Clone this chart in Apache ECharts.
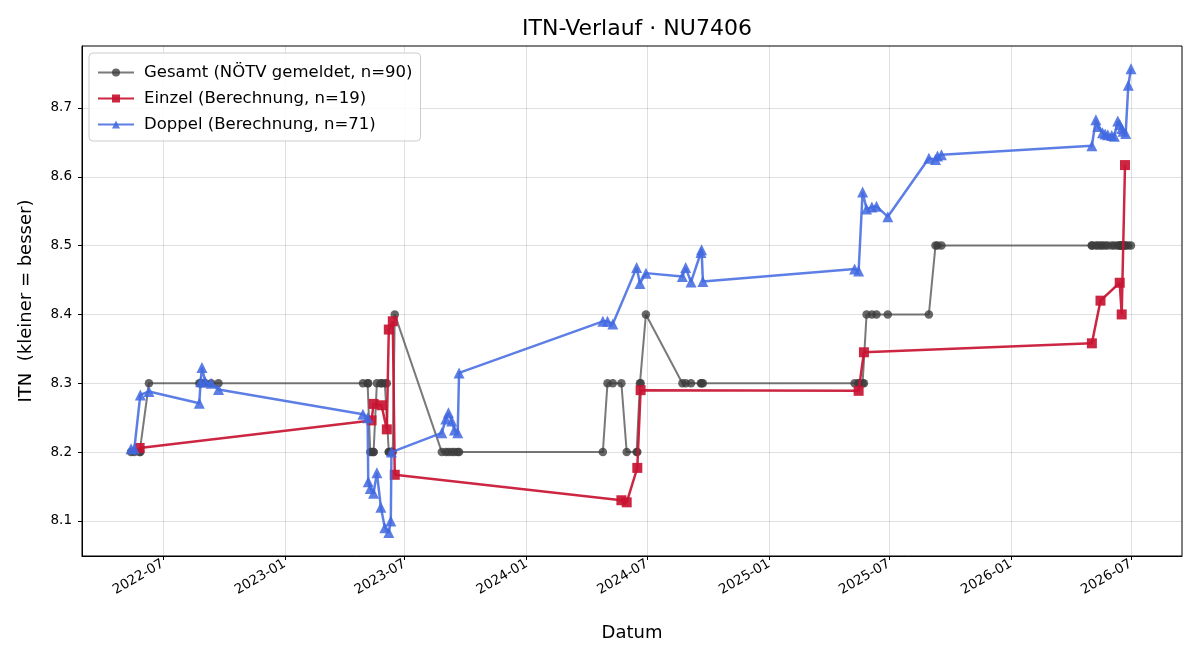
<!DOCTYPE html>
<html>
<head>
<meta charset="utf-8">
<script src="https://cdn.jsdelivr.net/npm/echarts@6/dist/echarts.min.js"></script>
<style>
  html, body { margin: 0; padding: 0; background: #fff; }
  #chart { width: 1200px; height: 660px; }
</style>
</head>
<body>
<div id="chart"></div>
<script>
// Gesamt (NÖTV gemeldet) – gemeldeter ITN je Stichtag
const gesamt = [
  ['2022-05-14', 8.2], ['2022-05-19', 8.2], ['2022-05-27', 8.2], ['2022-05-28', 8.2],
  ['2022-06-10', 8.3], ['2022-08-25', 8.3], ['2022-08-27', 8.3], ['2022-08-29', 8.3],
  ['2022-09-03', 8.3], ['2022-09-12', 8.3], ['2022-09-23', 8.3],
  ['2023-04-29', 8.3], ['2023-05-06', 8.3], ['2023-05-07', 8.3], ['2023-05-10', 8.2],
  ['2023-05-12', 8.2], ['2023-05-15', 8.2], ['2023-05-15', 8.2], ['2023-05-20', 8.3],
  ['2023-05-26', 8.3], ['2023-05-27', 8.3], ['2023-06-01', 8.3], ['2023-06-04', 8.3],
  ['2023-06-07', 8.2], ['2023-06-07', 8.2], ['2023-06-10', 8.2], ['2023-06-11', 8.2],
  ['2023-06-13', 8.2], ['2023-06-16', 8.4],
  ['2023-08-26', 8.2], ['2023-09-01', 8.2], ['2023-09-05', 8.2], ['2023-09-10', 8.2],
  ['2023-09-14', 8.2], ['2023-09-19', 8.2], ['2023-09-21', 8.2],
  ['2024-04-25', 8.2], ['2024-05-02', 8.3], ['2024-05-10', 8.3], ['2024-05-23', 8.3],
  ['2024-05-31', 8.2], ['2024-06-15', 8.2], ['2024-06-16', 8.2], ['2024-06-20', 8.3],
  ['2024-06-21', 8.3], ['2024-06-29', 8.4],
  ['2024-08-23', 8.3], ['2024-08-28', 8.3], ['2024-09-05', 8.3], ['2024-09-20', 8.3],
  ['2024-09-21', 8.3], ['2024-09-23', 8.3],
  ['2025-05-10', 8.3], ['2025-05-16', 8.3], ['2025-05-16', 8.3], ['2025-05-22', 8.3],
  ['2025-05-24', 8.3], ['2025-05-28', 8.4], ['2025-06-05', 8.4], ['2025-06-12', 8.4],
  ['2025-06-29', 8.4], ['2025-08-30', 8.4], ['2025-09-09', 8.5], ['2025-09-12', 8.5],
  ['2025-09-18', 8.5],
  ['2026-05-03', 8.5], ['2026-05-03', 8.5], ['2026-05-09', 8.5], ['2026-05-12', 8.5],
  ['2026-05-16', 8.5], ['2026-05-19', 8.5], ['2026-05-23', 8.5], ['2026-05-27', 8.5],
  ['2026-06-02', 8.5], ['2026-06-06', 8.5], ['2026-06-11', 8.5], ['2026-06-14', 8.5],
  ['2026-06-14', 8.5], ['2026-06-17', 8.5], ['2026-06-17', 8.5], ['2026-06-19', 8.5],
  ['2026-06-22', 8.5], ['2026-06-23', 8.5], ['2026-06-27', 8.5], ['2026-07-01', 8.5]
];

// Einzel (Berechnung)
const einzel = [
  ['2022-05-27', 8.206],
  ['2023-05-12', 8.246], ['2023-05-15', 8.270], ['2023-05-27', 8.268], ['2023-06-04', 8.233],
  ['2023-06-07', 8.378], ['2023-06-13', 8.390], ['2023-06-16', 8.167],
  ['2024-05-23', 8.130], ['2024-05-31', 8.127], ['2024-06-16', 8.177], ['2024-06-21', 8.290],
  ['2025-05-16', 8.289], ['2025-05-24', 8.345],
  ['2026-05-03', 8.358], ['2026-05-16', 8.420], ['2026-06-14', 8.446], ['2026-06-17', 8.400],
  ['2026-06-22', 8.617]
];

// Doppel (Berechnung)
const doppel = [
  ['2022-05-14', 8.205], ['2022-05-19', 8.205], ['2022-05-28', 8.283], ['2022-06-10', 8.288],
  ['2022-08-25', 8.271], ['2022-08-27', 8.302], ['2022-08-29', 8.323], ['2022-09-03', 8.302],
  ['2022-09-12', 8.300], ['2022-09-23', 8.291],
  ['2023-04-29', 8.255], ['2023-05-06', 8.250], ['2023-05-07', 8.157], ['2023-05-10', 8.147],
  ['2023-05-15', 8.140], ['2023-05-20', 8.170], ['2023-05-26', 8.120], ['2023-06-01', 8.090],
  ['2023-06-07', 8.083], ['2023-06-10', 8.100], ['2023-06-11', 8.200],
  ['2023-08-26', 8.228], ['2023-09-01', 8.248], ['2023-09-05', 8.257], ['2023-09-10', 8.245],
  ['2023-09-14', 8.232], ['2023-09-19', 8.228], ['2023-09-21', 8.315],
  ['2024-04-25', 8.390], ['2024-05-02', 8.390], ['2024-05-10', 8.386], ['2024-06-15', 8.468],
  ['2024-06-20', 8.445], ['2024-06-29', 8.460],
  ['2024-08-23', 8.455], ['2024-08-28', 8.468], ['2024-09-05', 8.447], ['2024-09-20', 8.490],
  ['2024-09-21', 8.494], ['2024-09-23', 8.448],
  ['2025-05-10', 8.466], ['2025-05-16', 8.463], ['2025-05-22', 8.578], ['2025-05-28', 8.553],
  ['2025-06-05', 8.556], ['2025-06-12', 8.557], ['2025-06-29', 8.542],
  ['2025-08-30', 8.627], ['2025-09-09', 8.625], ['2025-09-12', 8.630], ['2025-09-18', 8.632],
  ['2026-05-03', 8.645], ['2026-05-09', 8.683], ['2026-05-12', 8.673], ['2026-05-19', 8.664],
  ['2026-05-23', 8.662], ['2026-05-27', 8.661], ['2026-06-02', 8.660], ['2026-06-06', 8.659],
  ['2026-06-11', 8.681], ['2026-06-14', 8.676], ['2026-06-17', 8.670], ['2026-06-19', 8.666],
  ['2026-06-23', 8.663], ['2026-06-27', 8.733], ['2026-07-01', 8.757]
];

const xTicks = ['2022-07-01', '2023-01-01', '2023-07-01', '2024-01-01', '2024-07-01',
                '2025-01-01', '2025-07-01', '2026-01-01', '2026-07-01'];
const yTicks = [8.1, 8.2, 8.3, 8.4, 8.5, 8.6, 8.7];
const xRange = ['2022-03-01', '2026-09-16'];
const yRange = [8.049, 8.790];

// Datum -> ms (UTC), Achse ist eine Werteachse mit eigenen Ticks
const ts = s => Date.parse(s + 'T00:00:00Z');
const toSeries = arr => arr.map(([d, v]) => [ts(d), v]);
const fmtMonth = v => {
  const d = new Date(v);
  return d.getUTCFullYear() + '-' + String(d.getUTCMonth() + 1).padStart(2, '0');
};

const FONT = 'DejaVu Sans';
const chart = echarts.init(document.getElementById('chart'), null, { renderer: 'canvas' });

chart.setOption({
  animation: false,
  backgroundColor: '#fff',
  textStyle: { fontFamily: FONT, color: '#000' },
  title: {
    text: 'ITN-Verlauf · NU7406',
    left: 632, top: 13, textAlign: 'center',
    textStyle: { fontFamily: FONT, fontSize: 22, fontWeight: 'normal', color: '#000' }
  },
  grid: {
    left: 82, right: 18, top: 46, bottom: 104,
    show: true, borderColor: '#000', borderWidth: 1, backgroundColor: 'transparent'
  },
  legend: {
    orient: 'vertical', left: 89, top: 53,
    padding: [11, 8, 8, 8], itemGap: 9,
    itemWidth: 36, itemHeight: 10,
    backgroundColor: 'rgba(255,255,255,0.85)',
    borderColor: '#ccc', borderWidth: 1, borderRadius: 4,
    textStyle: { fontFamily: FONT, fontSize: 16.5, color: '#000', padding: [0, 0, 0, 5] },
    data: ['Gesamt (NÖTV gemeldet, n=90)', 'Einzel (Berechnung, n=19)', 'Doppel (Berechnung, n=71)']
  },
  xAxis: {
    type: 'value',
    min: ts(xRange[0]), max: ts(xRange[1]),
    name: 'Datum', nameLocation: 'middle', nameGap: 68,
    nameTextStyle: { fontFamily: FONT, fontSize: 18, color: '#000' },
    axisLine: { show: true, lineStyle: { color: '#000', width: 1 } },
    axisTick: { show: true, length: 4, lineStyle: { color: '#000' }, customValues: xTicks.map(ts) },
    axisLabel: {
      customValues: xTicks.map(ts),
      rotate: 30, fontFamily: FONT, fontSize: 13.5, color: '#000', margin: 7,
      formatter: fmtMonth
    },
    splitLine: { show: true, lineStyle: { color: 'rgba(0,0,0,0.12)', width: 1 } }
  },
  yAxis: {
    type: 'value',
    min: yRange[0], max: yRange[1],
    name: 'ITN  (kleiner = besser)', nameLocation: 'middle', nameGap: 47, nameRotate: 90,
    nameTextStyle: { fontFamily: FONT, fontSize: 18, color: '#000' },
    axisLine: { show: true, lineStyle: { color: '#000', width: 1 } },
    axisTick: { show: true, length: 4, lineStyle: { color: '#000' }, customValues: yTicks },
    axisLabel: {
      customValues: yTicks,
      fontFamily: FONT, fontSize: 13.5, color: '#000', margin: 10,
      formatter: v => v.toFixed(1)
    },
    splitLine: { show: true, lineStyle: { color: 'rgba(0,0,0,0.12)', width: 1 } }
  },
  series: [
    {
      name: 'Gesamt (NÖTV gemeldet, n=90)', type: 'line',
      data: toSeries(gesamt),
      symbol: 'circle', symbolSize: 8.5, showAllSymbol: true,
      lineStyle: { color: 'rgba(64,64,64,0.7)', width: 2 },
      itemStyle: { color: 'rgba(60,60,60,0.78)' },
      z: 2
    },
    {
      name: 'Einzel (Berechnung, n=19)', type: 'line',
      data: toSeries(einzel),
      symbol: 'rect', symbolSize: 10, showAllSymbol: true,
      lineStyle: { color: 'rgba(200,20,50,0.92)', width: 2.5 },
      itemStyle: { color: 'rgba(200,20,50,0.92)' },
      z: 3
    },
    {
      name: 'Doppel (Berechnung, n=71)', type: 'line',
      data: toSeries(doppel),
      symbol: 'triangle', symbolSize: 11, showAllSymbol: true,
      lineStyle: { color: 'rgba(65,105,225,0.85)', width: 2.5 },
      itemStyle: { color: 'rgba(65,105,225,0.85)' },
      z: 4
    }
  ]
});
</script>
</body>
</html>
